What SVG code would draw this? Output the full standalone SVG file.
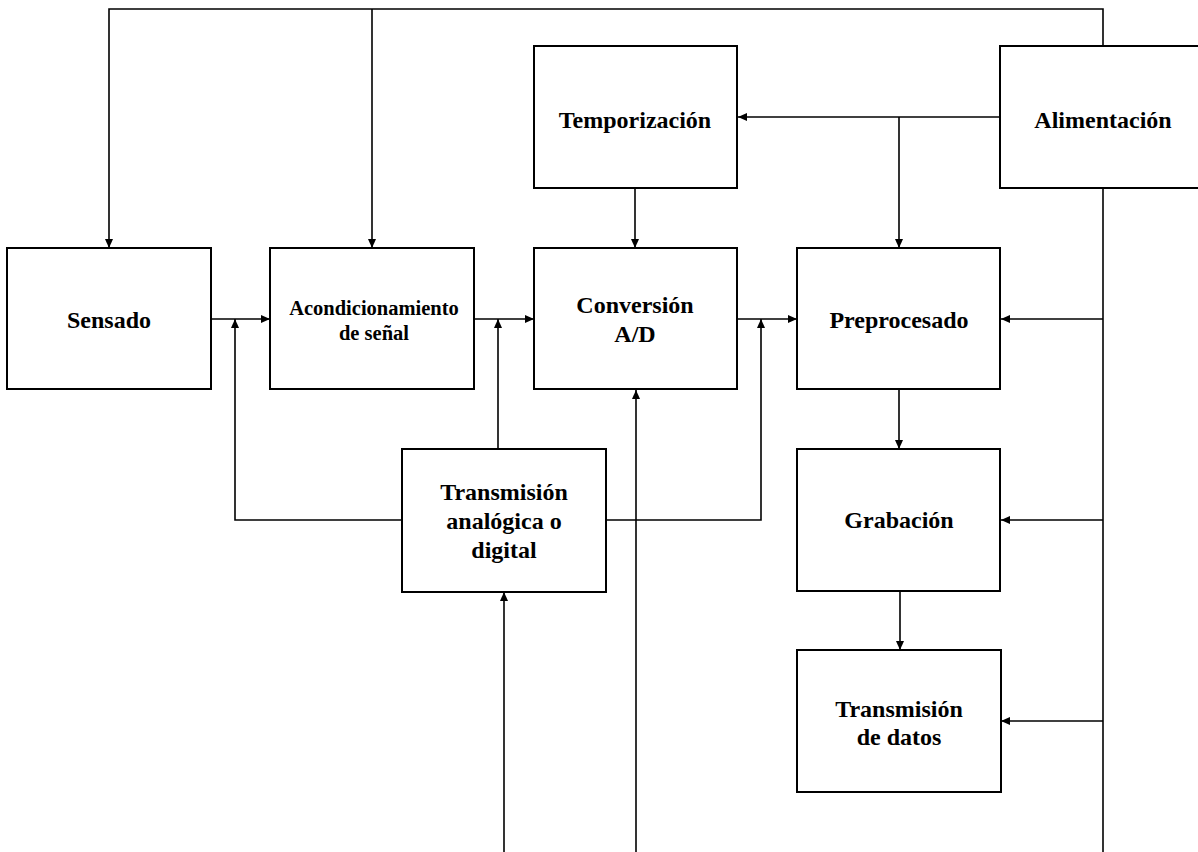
<svg xmlns="http://www.w3.org/2000/svg" width="1198" height="852" viewBox="0 0 1198 852">
<style>
.box{fill:#fff;stroke:#000;stroke-width:2}
.c{fill:none;stroke:#000;stroke-width:1.6}
.a{marker-end:url(#ah)}
text{font-family:"Liberation Serif","Times New Roman",serif;font-weight:bold;font-size:24px;text-anchor:middle;fill:#000}
.sm{font-size:20.5px}
</style>
<defs>
<marker id="ah" markerUnits="userSpaceOnUse" markerWidth="9" markerHeight="8" refX="9" refY="4" orient="auto">
<path d="M0,0 L9,4 L0,8 z" fill="#000"/>
</marker>
</defs>
<rect width="1198" height="852" fill="#fff"/>
<g id="connectors">
<path class="c a" d="M1103,46 V9 H109 V248"/>
<path class="c a" d="M372,9 V248"/>
<path class="c a" d="M1000,117 H738"/>
<path class="c a" d="M899,117 V248"/>
<path class="c a" d="M635,188 V248"/>
<path class="c a" d="M211,319 H270"/>
<path class="c a" d="M474,319 H534"/>
<path class="c a" d="M737,319 H797"/>
<path class="c a" d="M402,520 H235 V319"/>
<path class="c a" d="M498,449 V319"/>
<path class="c a" d="M606,520 H761 V319"/>
<path class="c a" d="M504,852 V592"/>
<path class="c a" d="M636,852 V390"/>
<path class="c" d="M1103,188 V852"/>
<path class="c a" d="M1103,319 H1001"/>
<path class="c a" d="M1103,520 H1001"/>
<path class="c a" d="M1103,721 H1001"/>
<path class="c a" d="M899,389 V449"/>
<path class="c a" d="M900,591 V650"/>
</g>
<g id="sensado">
<rect class="box" x="7" y="248" width="204" height="141"/>
<text x="109" y="328">Sensado</text>
</g>
<g id="acondicionamiento">
<rect class="box" x="270" y="248" width="204" height="141"/>
<text class="sm" x="374" y="315">Acondicionamiento</text>
<text class="sm" x="374" y="340">de señal</text>
</g>
<g id="conversion">
<rect class="box" x="534" y="248" width="203" height="141"/>
<text x="635" y="313">Conversión</text>
<text x="635" y="342">A/D</text>
</g>
<g id="preprocesado">
<rect class="box" x="797" y="248" width="203" height="141"/>
<text x="899" y="328">Preprocesado</text>
</g>
<g id="temporizacion">
<rect class="box" x="534" y="46" width="203" height="142"/>
<text x="635" y="128">Temporización</text>
</g>
<g id="alimentacion">
<rect class="box" x="1000" y="46" width="206" height="142"/>
<text x="1103" y="128">Alimentación</text>
</g>
<g id="transmision-analogica">
<rect class="box" x="402" y="449" width="204" height="143"/>
<text x="504" y="500">Transmisión</text>
<text x="504" y="529">analógica o</text>
<text x="504" y="558">digital</text>
</g>
<g id="grabacion">
<rect class="box" x="797" y="449" width="203" height="142"/>
<text x="899" y="528">Grabación</text>
</g>
<g id="transmision-datos">
<rect class="box" x="797" y="650" width="204" height="142"/>
<text x="899" y="717">Transmisión</text>
<text x="899" y="745">de datos</text>
</g>
</svg>
